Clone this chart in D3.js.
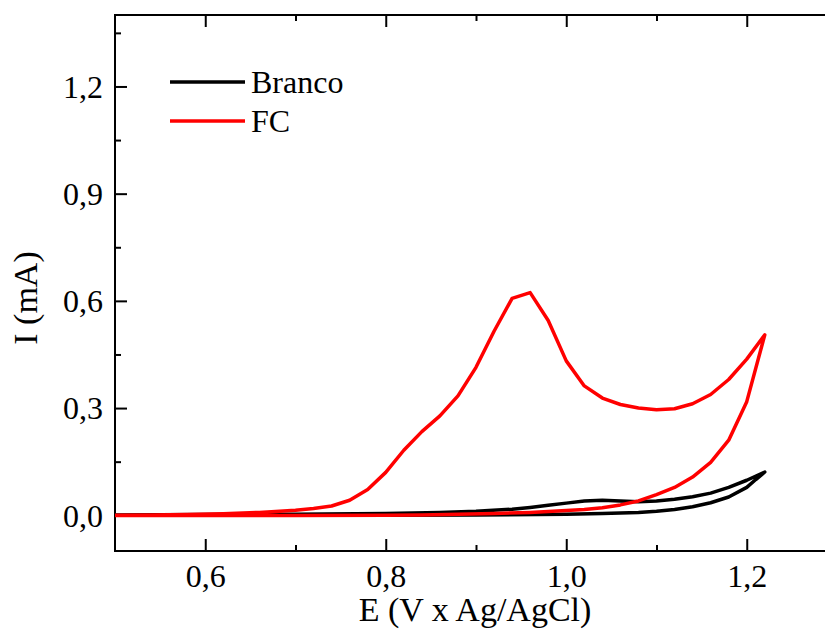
<!DOCTYPE html>
<html>
<head>
<meta charset="utf-8">
<script src="https://cdn.jsdelivr.net/npm/d3@7"></script>
<style>
  html, body { margin: 0; padding: 0; background: #fff; }
  svg { display: block; }
  text { font-family: "Liberation Serif", "Times New Roman", serif; fill: #000; }
</style>
</head>
<body>
<svg id="chart" width="825" height="639"></svg>
<script>
// ---- data ----
const seriesNames = ["Branco", "FC"];
const seriesColors = ["#000000", "#ff0000"];

// Branco: forward (upper) branch then return (lower) branch
const brancoE = [0.50, 0.60, 0.70, 0.80, 0.86, 0.90, 0.94, 0.96, 0.98, 1.00, 1.02, 1.04, 1.06, 1.08, 1.10, 1.12, 1.14, 1.16, 1.18, 1.20, 1.22,
                 1.21, 1.20, 1.18, 1.16, 1.14, 1.12, 1.10, 1.08, 1.04, 1.00, 0.90, 0.80, 0.70, 0.60, 0.50];
const brancoI = [0.001, 0.002, 0.003, 0.005, 0.008, 0.011, 0.017, 0.022, 0.028, 0.034, 0.040, 0.042, 0.040, 0.038, 0.040, 0.045, 0.052, 0.062, 0.078, 0.098, 0.121,
                 0.100, 0.078, 0.051, 0.035, 0.024, 0.016, 0.011, 0.008, 0.005, 0.003, 0.001, 0.000, 0.000, 0.000, 0.000];

// FC: forward branch with the oxidation peak, then return branch
const fcE = [0.50, 0.54, 0.58, 0.62, 0.66, 0.70, 0.72, 0.74, 0.76, 0.78, 0.80, 0.82, 0.84, 0.86, 0.88, 0.90, 0.92, 0.94, 0.96, 0.98, 1.00,
             1.02, 1.04, 1.06, 1.08, 1.10, 1.12, 1.14, 1.16, 1.18, 1.20, 1.22,
             1.20, 1.18, 1.16, 1.14, 1.12, 1.10, 1.08, 1.06, 1.04, 1.02, 1.00, 0.96, 0.92, 0.88, 0.84, 0.80, 0.70, 0.60, 0.50];
const fcI = [0.000, 0.001, 0.002, 0.004, 0.008, 0.014, 0.019, 0.026, 0.042, 0.072, 0.120, 0.182, 0.234, 0.278, 0.334, 0.414, 0.515, 0.607, 0.623, 0.545, 0.432,
             0.362, 0.328, 0.310, 0.300, 0.295, 0.298, 0.312, 0.338, 0.380, 0.437, 0.505,
             0.318, 0.210, 0.148, 0.107, 0.078, 0.058, 0.040, 0.029, 0.021, 0.016, 0.013, 0.008, 0.005, 0.003, 0.001, 0.000, -0.001, -0.001, -0.001];

const xMajorTicks = [0.6, 0.8, 1.0, 1.2];
const xMinorTicks = [0.7, 0.9, 1.1];
const yMajorTicks = [0.0, 0.3, 0.6, 0.9, 1.2];
const yMinorTicks = [0.15, 0.45, 0.75, 1.05, 1.35];
const xTickLabels = ["0,6", "0,8", "1,0", "1,2"];
const yTickLabels = ["0,0", "0,3", "0,6", "0,9", "1,2"];
const xTitle = "E (V x Ag/AgCl)";
const yTitle = "I (mA)";

// ---- layout ----
const svg = d3.select("#chart");
const L = 115, R = 837, T = 15, B = 551;
const x = d3.scaleLinear().domain([0.5, 1.3]).range([L, R]);
const y = d3.scaleLinear().domain([-0.1, 1.4]).range([B, T]);

const tickFont = 32;

function styleAxis(g) {
  g.select(".domain").remove();
  g.selectAll(".tick line").attr("stroke", "#000").attr("stroke-width", 2);
}

// bottom axis
const gx = svg.append("g").attr("transform", `translate(0,${B})`)
  .call(d3.axisBottom(x).tickValues(xMajorTicks).tickSize(-12).tickPadding(14)
        .tickFormat((d, i) => xTickLabels[i]));
styleAxis(gx);
gx.selectAll(".tick text").attr("font-size", tickFont).attr("dy", null).attr("y", 36)
  .attr("font-family", "Liberation Serif");
svg.append("g").attr("transform", `translate(0,${B})`)
  .call(d3.axisBottom(x).tickValues(xMinorTicks).tickSize(-6).tickFormat(""))
  .call(styleAxis);

// top axis
svg.append("g").attr("transform", `translate(0,${T})`)
  .call(d3.axisTop(x).tickValues(xMajorTicks).tickSize(-12).tickFormat(""))
  .call(styleAxis);
svg.append("g").attr("transform", `translate(0,${T})`)
  .call(d3.axisTop(x).tickValues(xMinorTicks).tickSize(-6).tickFormat(""))
  .call(styleAxis);

// left axis
const gy = svg.append("g").attr("transform", `translate(${L},0)`)
  .call(d3.axisLeft(y).tickValues(yMajorTicks).tickSize(-12).tickPadding(12)
        .tickFormat((d, i) => yTickLabels[i]));
styleAxis(gy);
gy.selectAll(".tick text").attr("font-size", tickFont).attr("dy", "0.34em")
  .attr("font-family", "Liberation Serif");
svg.append("g").attr("transform", `translate(${L},0)`)
  .call(d3.axisLeft(y).tickValues(yMinorTicks).tickSize(-6).tickFormat(""))
  .call(styleAxis);

// right axis
svg.append("g").attr("transform", `translate(${R},0)`)
  .call(d3.axisRight(y).tickValues(yMajorTicks).tickSize(-12).tickFormat(""))
  .call(styleAxis);
svg.append("g").attr("transform", `translate(${R},0)`)
  .call(d3.axisRight(y).tickValues(yMinorTicks).tickSize(-6).tickFormat(""))
  .call(styleAxis);

// frame
svg.append("rect").attr("x", L).attr("y", T).attr("width", R - L).attr("height", B - T)
  .attr("fill", "none").attr("stroke", "#000").attr("stroke-width", 2);

// curves
const line = d3.line().x(d => x(d[0])).y(d => y(d[1]));
const brancoData = brancoE.map((e, i) => [e, brancoI[i]]);
const fcData = fcE.map((e, i) => [e, fcI[i]]);
svg.append("path").datum(brancoData).attr("d", line)
  .attr("fill", "none").attr("stroke", seriesColors[0]).attr("stroke-width", 3.5)
  .attr("stroke-linejoin", "round");
svg.append("path").datum(fcData).attr("d", line)
  .attr("fill", "none").attr("stroke", seriesColors[1]).attr("stroke-width", 3.5)
  .attr("stroke-linejoin", "round");

// legend
const legendY = [82, 121];
seriesNames.forEach((name, i) => {
  svg.append("line").attr("x1", 170).attr("x2", 245).attr("y1", legendY[i]).attr("y2", legendY[i])
    .attr("stroke", seriesColors[i]).attr("stroke-width", 3.5);
  svg.append("text").attr("x", 251).attr("y", legendY[i] + 11).attr("font-size", 32).text(name);
});

// axis titles
svg.append("text").attr("x", 475).attr("y", 621).attr("text-anchor", "middle")
  .attr("font-size", 34).text(xTitle);
svg.append("text").attr("transform", "translate(37,298) rotate(-90)").attr("text-anchor", "middle")
  .attr("font-size", 34).text(yTitle);
</script>
</body>
</html>
